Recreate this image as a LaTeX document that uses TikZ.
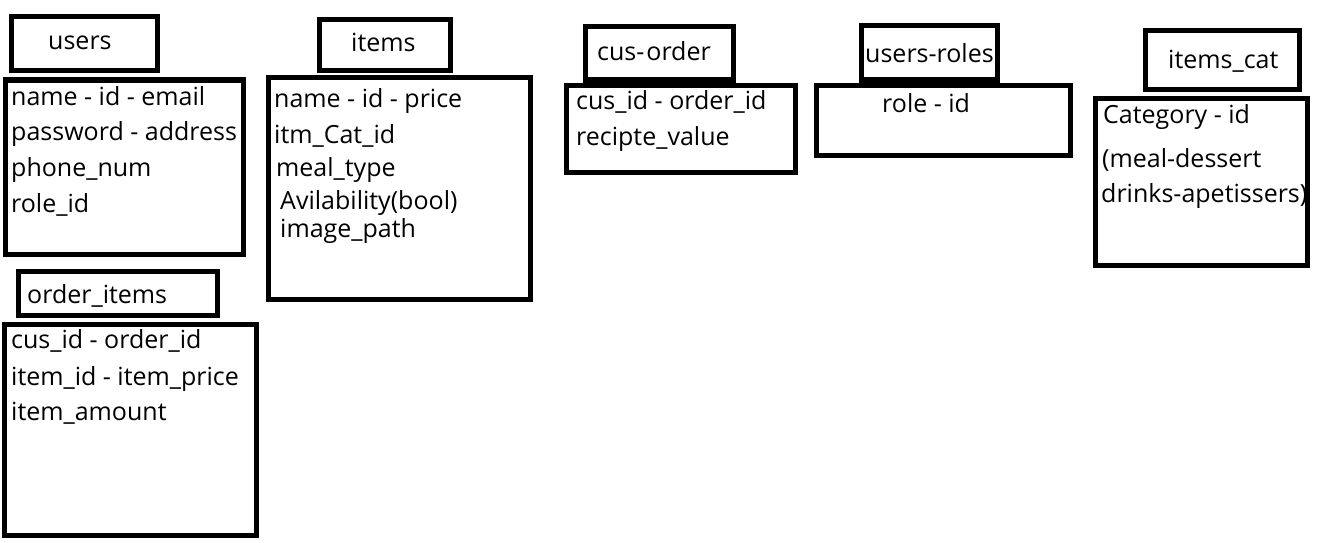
\documentclass[tikz,border=0pt]{standalone}
\usepackage{fontspec}
\setmainfont{Open Sans}
\begin{document}
\begin{tikzpicture}[x=1pt,y=-1pt,
  box/.style={draw=black,line width=5pt},
  txt/.style={anchor=base west,inner sep=0pt,font=\fontsize{25}{30}\selectfont}]
\useasboundingbox[fill=white] (0,0) rectangle (1317,543);
% users
\draw[box] (11.5,16.5) rectangle (157,70.5);
\draw[box] (5,80) rectangle (243,254);
\node[txt] (ut) at (48,50) {users};
\node[txt] (u1) at (11,105) {name - id - email};
\node[txt] (u2) at (11,140) {password - address};
\node[txt] (u3) at (11,176) {phone\_num};
\node[txt] (u4) at (11,212) {role\_id};
% items
\draw[box] (319.5,19.5) rectangle (450.5,70.5);
\draw[box] (268.5,77.5) rectangle (530,299.5);
\node[txt] (it) at (351,52) {items};
\node[txt] (i1) at (274,107) {name - id - price};
\node[txt] (i2) at (274,143) {itm\_Cat\_id};
\node[txt] (i3) at (276,176) {meal\_type};
\node[txt] (i4) at (280,209) {Avilability(bool)};
\node[txt] (i5) at (280,237) {image\_path};
% cus-order
\draw[box] (585,27) rectangle (733,80);
\draw[box] (566,85) rectangle (795,172);
\node[txt] (ct) at (597,60) {cus-\hspace{2pt}order};
\node[txt] (c1) at (576,110) {cus\_id - order\_id};
\node[txt] (c2) at (576,145) {recipte\_value};
% users-roles
\draw[box] (861,26) rectangle (997,80);
\draw[box] (816,85) rectangle (1070,155);
\node[txt] (rt) at (865,63) {users-roles};
\node[txt] (r1) at (882,112) {role - id};
% items_cat
\draw[box] (1145,31) rectangle (1299,89);
\draw[box] (1095,98) rectangle (1307,265);
\node[txt] (kt) at (1168,68) {items\_cat};
\node[txt] (k1) at (1103,123) {Category - id};
\node[txt] (k2) at (1102,167) {(meal-dessert};
\node[txt] (k3) at (1101,202) {drinks-apetissers)};
% order_items
\draw[box] (18.5,271.5) rectangle (217.5,315.5);
\draw[box] (4,324) rectangle (256,535);
\node[txt] (ot) at (27,303) {order\_items};
\node[txt] (o1) at (11,348) {cus\_id - order\_id};
\node[txt] (o2) at (11,385) {item\_id - item\_price};
\node[txt] (o3) at (11,420) {item\_amount};
\end{tikzpicture}
\end{document}
